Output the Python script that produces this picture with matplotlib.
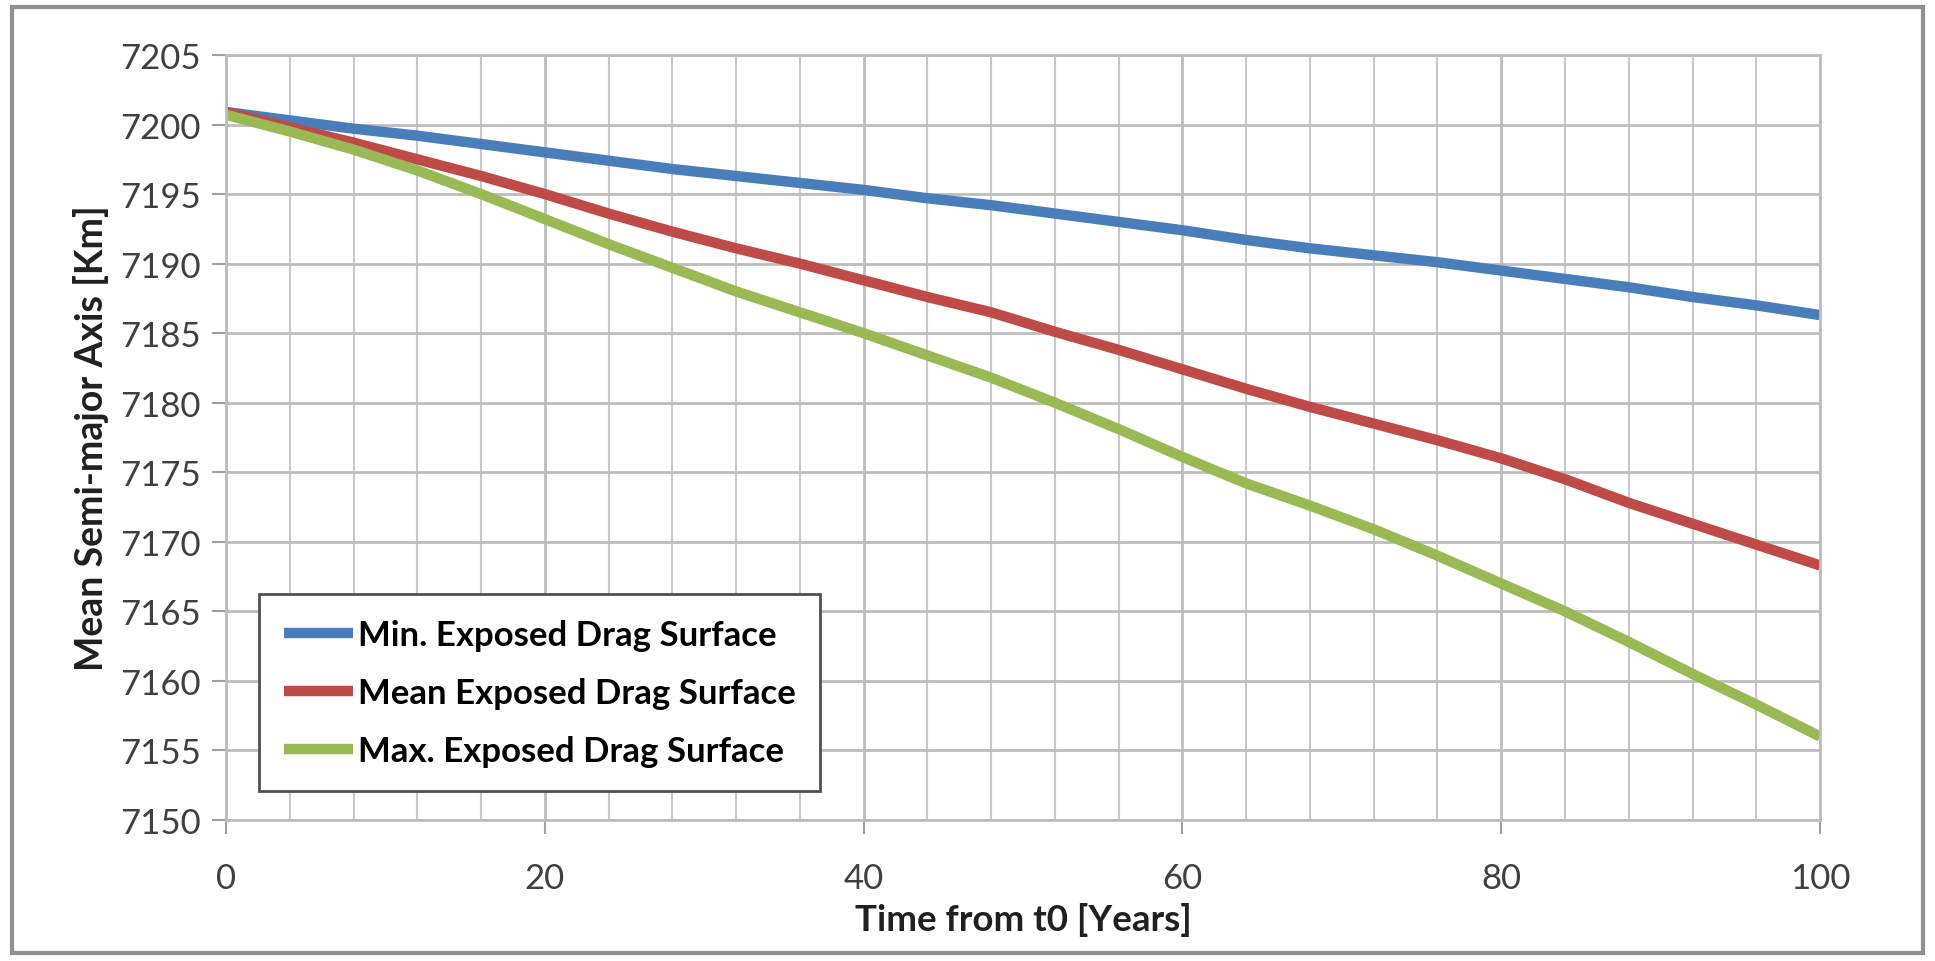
import matplotlib
matplotlib.use('Agg')
import numpy as np
from matplotlib import pyplot as plt
from matplotlib.patches import Rectangle

# years from t0
years = [0, 4, 8, 12, 16, 20, 24, 28, 32, 36, 40, 44, 48, 52, 56, 60,
         64, 68, 72, 76, 80, 84, 88, 92, 96, 100]

# mean semi-major axis [km]
sma_min = [7200.9, 7200.3, 7199.7, 7199.2, 7198.6, 7198.0, 7197.4, 7196.8,
           7196.3, 7195.8, 7195.3, 7194.7, 7194.2, 7193.6, 7193.0, 7192.4,
           7191.7, 7191.1, 7190.6, 7190.1, 7189.5, 7188.9, 7188.3, 7187.6,
           7187.0, 7186.3]
sma_mean = [7200.9, 7199.8, 7198.7, 7197.5, 7196.3, 7195.0, 7193.6, 7192.3,
            7191.1, 7190.0, 7188.8, 7187.6, 7186.5, 7185.1, 7183.8, 7182.4,
            7181.0, 7179.7, 7178.5, 7177.3, 7176.0, 7174.5, 7172.8, 7171.3,
            7169.8, 7168.3]
sma_max = [7200.7, 7199.5, 7198.2, 7196.7, 7195.0, 7193.2, 7191.4, 7189.7,
           7188.0, 7186.5, 7185.0, 7183.4, 7181.8, 7180.0, 7178.1, 7176.1,
           7174.2, 7172.6, 7170.9, 7169.0, 7167.0, 7165.0, 7162.8, 7160.5,
           7158.3, 7156.0]

labels = ['Min. Exposed Drag Surface', 'Mean Exposed Drag Surface',
          'Max. Exposed Drag Surface']
colors = ['#4A7EBB', '#BE4B48', '#98B954']

plt.rcParams['font.family'] = ['Lato', 'DejaVu Sans']

fig = plt.figure(figsize=(19.35, 9.62), dpi=100)
ax = fig.add_axes([0.1168, 0.1466, 0.8238, 0.7952])

for vals, lab, col in zip([sma_min, sma_mean, sma_max], labels, colors):
    ax.plot(years, vals, color=col, linewidth=7.5, label=lab,
            solid_capstyle='butt')

ax.set_xlim(0, 100)
ax.set_ylim(7150, 7205)
ax.set_xticks(np.arange(0, 101, 20))
ax.set_xticks(np.arange(0, 101, 4), minor=True)
ax.set_yticks(np.arange(7150, 7206, 5))

ax.grid(True, which='major', color='#BDBDBD', linewidth=2.0)
ax.grid(True, which='minor', axis='x', color='#C8C8C8', linewidth=1.5)
ax.set_axisbelow(True)

for side in ['top', 'right', 'bottom', 'left']:
    ax.spines[side].set_color('#BDBDBD')
    ax.spines[side].set_linewidth(2)

ax.tick_params(axis='both', which='major', labelsize=25, length=10,
               width=1.5, color='#A0A0A0', labelcolor='#404040')
ax.tick_params(axis='x', which='major', pad=20)
ax.tick_params(axis='y', which='major', pad=8)
ax.tick_params(axis='x', which='minor', length=0)

ax.set_xlabel('Time from t0 [Years]', fontsize=26.5, fontweight='bold',
              labelpad=6, color='#202020')
ax.set_ylabel('Mean Semi-major Axis [Km]', fontsize=27, fontweight='bold',
              labelpad=8, color='#202020')

leg = ax.legend(loc='lower left', bbox_to_anchor=(0.01, 0.015),
                prop={'weight': 'bold', 'size': 25},
                fancybox=False, framealpha=1, edgecolor='#505050',
                handlelength=2.0, handletextpad=0.15, labelspacing=0.75,
                borderpad=0.7)
leg.get_frame().set_linewidth(2)

# outer chart frame
fig.patches.append(Rectangle((0.006, 0.008), 0.988, 0.984,
                             transform=fig.transFigure, fill=False,
                             edgecolor='#909090', linewidth=3))

fig.savefig('out.png', dpi=100)
